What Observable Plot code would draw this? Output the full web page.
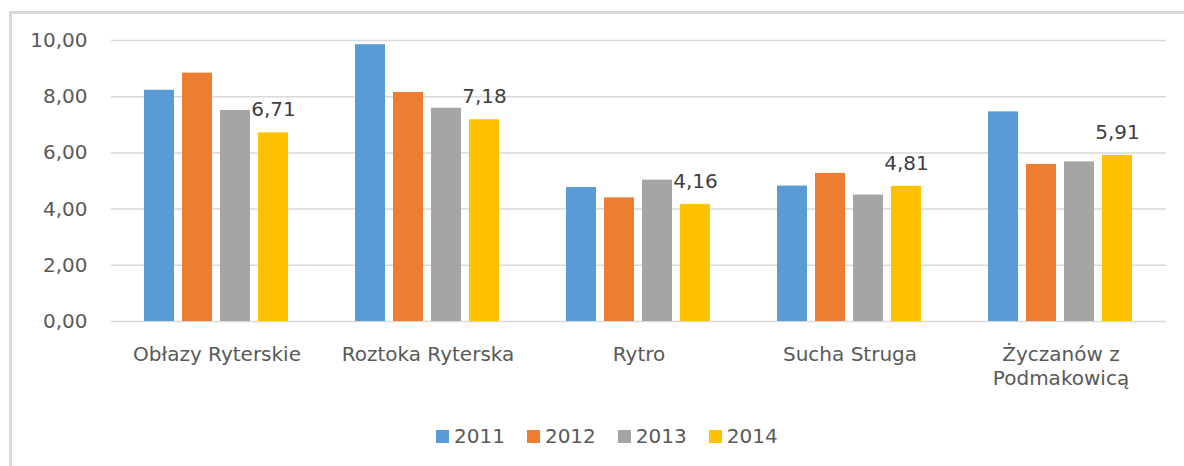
<!DOCTYPE html>
<html>
<head>
<meta charset="utf-8">
<script src="https://cdn.jsdelivr.net/npm/d3@7"></script>
<script src="https://cdn.jsdelivr.net/npm/@observablehq/plot@0.6"></script>
<style>
  html, body { margin: 0; padding: 0; background: #fff; }
  body { width: 1184px; height: 466px; position: relative; overflow: hidden; font-family: "DejaVu Sans", sans-serif; }
  #frame { position: absolute; left: 9px; top: 11px; right: 0; bottom: -5px; border-top: 3px solid #D9D9D9; border-left: 3px solid #D9D9D9; }
  #chart { position: absolute; left: 0; top: 0; }
  #legend { position: absolute; left: 436px; top: 424px; display: flex; align-items: center; font-size: 20px; color: #595959; }
  .item { display: flex; align-items: center; margin-right: 22px; }
  .sw { width: 13px; height: 13px; margin-right: 5px; }
</style>
</head>
<body>
<div id="frame"></div>
<div id="chart"></div>
<div id="legend"></div>
<script>
const categories = ["Obłazy Ryterskie", "Roztoka Ryterska", "Rytro", "Sucha Struga", "Życzanów z\nPodmakowicą"];
const years = ["2011", "2012", "2013", "2014"];
const v2011 = [8.23, 9.85, 4.77, 4.82, 7.46];
const v2012 = [8.84, 8.15, 4.40, 5.27, 5.59];
const v2013 = [7.51, 7.59, 5.03, 4.50, 5.68];
const v2014 = [6.71, 7.18, 4.16, 4.81, 5.91];
const colors = ["#5B9BD5", "#ED7D31", "#A5A5A5", "#FFC000"];
const yTicks = [0, 2, 4, 6, 8, 10];
const labeledYear = "2014";

const series = [v2011, v2012, v2013, v2014];
const data = [];
categories.forEach((c, i) => years.forEach((y, j) => data.push({cat: c, year: y, value: series[j][i]})));
const fmt = d => d.toFixed(2).replace(".", ",");

const chart = Plot.plot({
  width: 1184,
  height: 400,
  marginLeft: 109,
  marginRight: 16,
  marginTop: 40,
  marginBottom: 79,
  style: {fontFamily: "DejaVu Sans", fontSize: "20px", color: "#595959", background: "transparent"},
  fx: {domain: categories, padding: 0, label: null, axis: null},
  x: {domain: years, paddingInner: 0.21, paddingOuter: 0.855, axis: null},
  y: {domain: [0, 10], label: null},
  color: {domain: years, range: colors},
  marks: [
    Plot.gridY(yTicks, {stroke: "#D9D9D9", strokeOpacity: 1, strokeWidth: 1.5}),
    Plot.barY(data, {fx: "cat", x: "year", y: "value", fill: "year"}),
    Plot.text(data.filter(d => d.year === labeledYear), {fx: "cat", x: "year", y: "value", text: d => fmt(d.value), dy: -23, fontSize: 20, fill: "#404040"}),
    Plot.axisY({ticks: yTicks, tickFormat: fmt, tickSize: 0, tickPadding: 24, fontSize: 20, label: null}),
    Plot.axisFx({anchor: "bottom", tickSize: 0, tickPadding: 22, fontSize: 20, lineHeight: 1.2, label: null})
  ]
});
document.getElementById("chart").appendChild(chart);

const legend = document.getElementById("legend");
years.forEach((y, i) => {
  const item = document.createElement("div");
  item.className = "item";
  const sw = document.createElement("span");
  sw.className = "sw";
  sw.style.background = colors[i];
  const t = document.createElement("span");
  t.textContent = y;
  item.appendChild(sw);
  item.appendChild(t);
  legend.appendChild(item);
});
</script>
</body>
</html>
